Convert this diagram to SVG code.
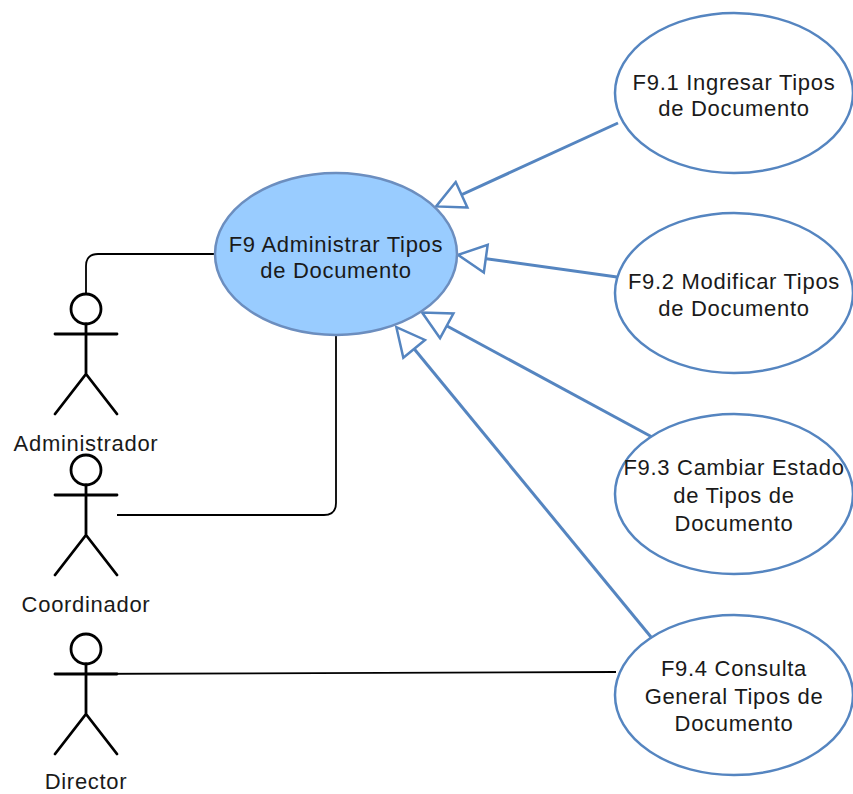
<svg xmlns="http://www.w3.org/2000/svg" width="853" height="794" viewBox="0 0 853 794">
  <style>
    .lbl { font-family: "Liberation Sans", Arial, Helvetica, sans-serif; font-size: 22px; letter-spacing: 0.7px; fill: #1a1a1a; text-anchor: middle; }
    .uc { fill: #ffffff; stroke: #5585c0; stroke-width: 2.5; }
    .main { fill: #99ccff; stroke: #6c8ebf; stroke-width: 2.5; }
    .actor { fill: none; stroke: #000000; stroke-width: 2.8; stroke-linecap: round; }
    .assoc { fill: none; stroke: #000000; stroke-width: 1.8; }
    .gen { fill: none; stroke: #5585c0; stroke-width: 3; marker-end: url(#tri); }
  </style>
  <defs>
    <marker id="tri" markerUnits="userSpaceOnUse" markerWidth="32" markerHeight="32" viewBox="-2 -2 32 32" refX="27" refY="14" orient="auto" overflow="visible">
      <path d="M0,0 L28,14 L0,28 Z" fill="#ffffff" stroke="#5585c0" stroke-width="2.5"/>
    </marker>
  </defs>
  <rect width="853" height="794" fill="#ffffff"/>

  <g id="connectors">
    <path class="assoc" d="M86,294 L86,266 Q86,254 98,254 L215,254"/>
    <path class="assoc" d="M117,515 L324,515 Q336,515 336,503 L336,335"/>
    <path class="assoc" d="M55,674 L616,672"/>
    <path class="gen" d="M618,123 L437,206"/>
    <path class="gen" d="M617,277 L459,255"/>
    <path class="gen" d="M652,437 L423,313"/>
    <path class="gen" d="M651,637 L397,328"/>
  </g>

  <g id="F9">
    <ellipse class="main" cx="336" cy="254" rx="121" ry="81"/>
    <text class="lbl" x="336" y="251.5">F9 Administrar Tipos</text>
    <text class="lbl" x="336" y="278">de Documento</text>
  </g>

  <g id="F9_1">
    <ellipse class="uc" cx="734" cy="93" rx="119" ry="80"/>
    <text class="lbl" x="734" y="90">F9.1 Ingresar Tipos</text>
    <text class="lbl" x="734" y="116">de Documento</text>
  </g>

  <g id="F9_2">
    <ellipse class="uc" cx="734" cy="293" rx="119" ry="80"/>
    <text class="lbl" x="734" y="289">F9.2 Modificar Tipos</text>
    <text class="lbl" x="734" y="316">de Documento</text>
  </g>

  <g id="F9_3">
    <ellipse class="uc" cx="734" cy="494" rx="119" ry="80"/>
    <text class="lbl" x="734" y="475">F9.3 Cambiar Estado</text>
    <text class="lbl" x="734" y="503">de Tipos de</text>
    <text class="lbl" x="734" y="531">Documento</text>
  </g>

  <g id="F9_4">
    <ellipse class="uc" cx="734" cy="695" rx="119" ry="80"/>
    <text class="lbl" x="734" y="676">F9.4 Consulta</text>
    <text class="lbl" x="734" y="704">General Tipos de</text>
    <text class="lbl" x="734" y="731">Documento</text>
  </g>

  <g id="actor_administrador">
    <ellipse class="actor" cx="86" cy="309" rx="15" ry="15"/>
    <path class="actor" d="M86,324 L86,374 M55,334 L117,334 M86,374 L55,414 M86,374 L117,414"/>
    <text class="lbl" x="86" y="451">Administrador</text>
  </g>

  <g id="actor_coordinador">
    <ellipse class="actor" cx="86" cy="470" rx="15" ry="15"/>
    <path class="actor" d="M86,485 L86,535 M55,495 L117,495 M86,535 L55,575 M86,535 L117,575"/>
    <text class="lbl" x="86" y="612">Coordinador</text>
  </g>

  <g id="actor_director">
    <ellipse class="actor" cx="86" cy="649" rx="15" ry="15"/>
    <path class="actor" d="M86,664 L86,714 M55,674 L117,674 M86,714 L55,754 M86,714 L117,754"/>
    <text class="lbl" x="86" y="789">Director</text>
  </g>
</svg>
